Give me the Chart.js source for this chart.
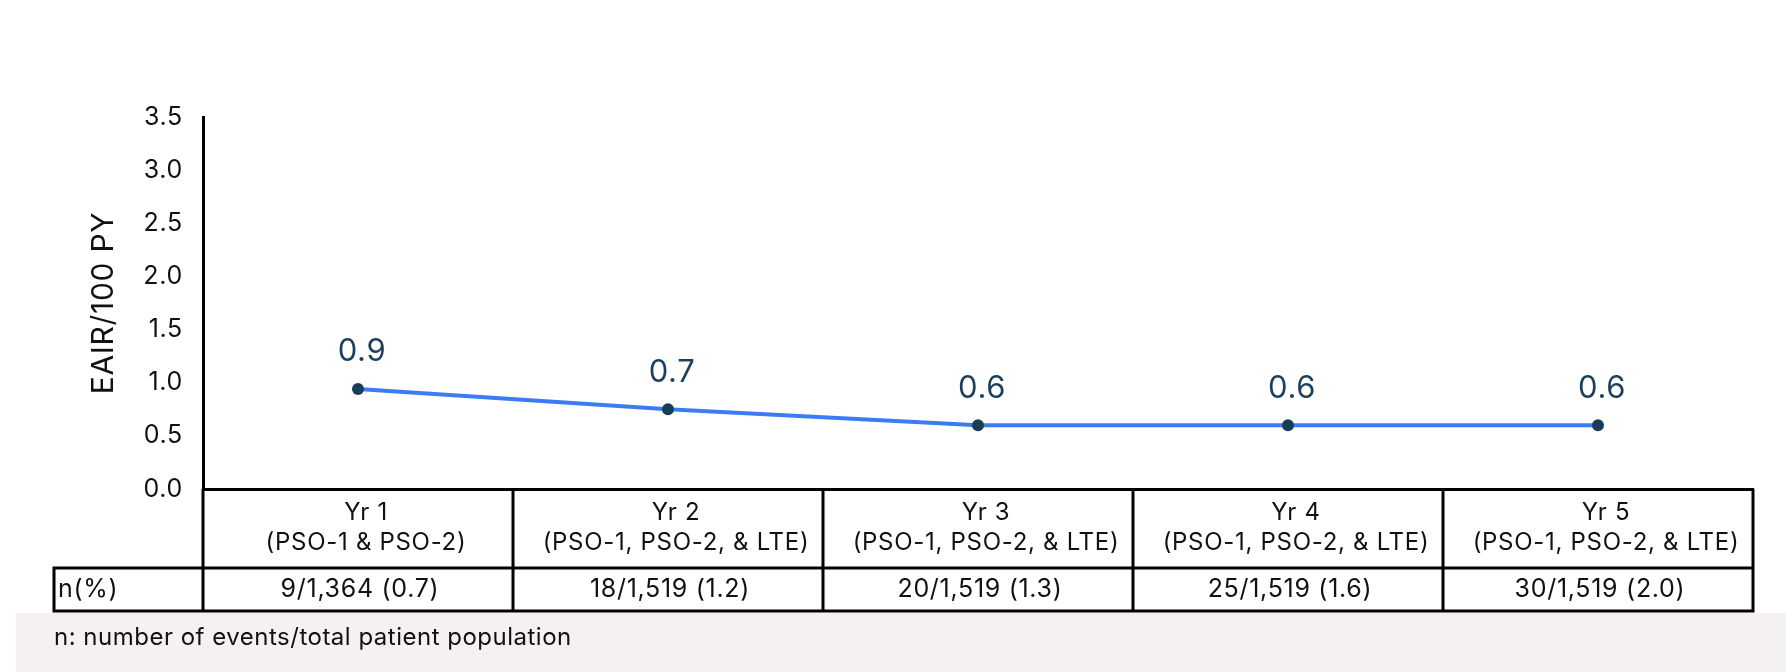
<!DOCTYPE html>
<html lang="en">
<head>
    <meta charset="UTF-8">
    <title>EAIR by Year</title>
    <script src="https://cdn.jsdelivr.net/npm/chart.js"></script>
    <style>
        body {
            margin: 0;
            background-color: white;
        }

        .chart-container {
            width: 1789px;
            height: 672px;
            position: relative;
        }
    </style>
</head>
<body>
    <div class="chart-container">
        <canvas id="eairChart"></canvas>
    </div>

    <script>
        const years = ['Yr 1', 'Yr 2', 'Yr 3', 'Yr 4', 'Yr 5'];
        const studies = ['(PSO-1 & PSO-2)', '(PSO-1, PSO-2, & LTE)', '(PSO-1, PSO-2, & LTE)', '(PSO-1, PSO-2, & LTE)', '(PSO-1, PSO-2, & LTE)'];
        const eairValues = [0.94, 0.75, 0.6, 0.6, 0.6];
        const eairLabels = ['0.9', '0.7', '0.6', '0.6', '0.6'];
        const eventCounts = ['9/1,364 (0.7)', '18/1,519 (1.2)', '20/1,519 (1.3)', '25/1,519 (1.6)', '30/1,519 (2.0)'];
        const yTicks = [0, 0.5, 1, 1.5, 2, 2.5, 3, 3.5];

        const fontFamily = 'Inter, "Noto Sans", Arial, sans-serif';

        // data labels above the points
        const valueLabels = {
            id: 'valueLabels',
            afterDatasetsDraw(chart) {
                const ctx = chart.ctx;
                const meta = chart.getDatasetMeta(0);
                ctx.save();
                ctx.letterSpacing = '0.6px';
                ctx.font = '31px ' + fontFamily;
                ctx.fillStyle = '#1b3f5c';
                ctx.textAlign = 'center';
                ctx.textBaseline = 'middle';
                meta.data.forEach(function (pt, i) {
                    ctx.fillText(eairLabels[i], pt.x + 4, pt.y - 37);
                });
                ctx.restore();
            }
        };

        // table grid under the x axis + footnote
        const tableGrid = {
            id: 'tableGrid',
            beforeDraw(chart) {
                const ctx = chart.ctx;
                ctx.save();
                ctx.fillStyle = '#f4f1f0';
                ctx.fillRect(16, 613, 1770, 59);
                ctx.letterSpacing = '0.5px';
                ctx.font = '24px ' + fontFamily;
                ctx.fillStyle = '#111';
                ctx.textAlign = 'left';
                ctx.textBaseline = 'middle';
                ctx.fillText('n: number of events/total patient population', 54, 638);
                ctx.restore();
                // the reference text is a little wider than Inter
                ctx.letterSpacing = '0.7px';
            },
            afterDraw(chart) {
                const ctx = chart.ctx;
                const x = chart.scales.x;
                const half = (x.right - x.left) / (years.length * 2);
                const top = chart.chartArea.bottom;
                const rowY = 568;
                const bottom = 611;
                const rowLeft = 54;
                ctx.save();
                ctx.strokeStyle = '#000';
                ctx.lineWidth = 3;
                ctx.beginPath();
                for (let i = 0; i <= years.length; i++) {
                    const bx = i < years.length ? x.getPixelForValue(i) - half : x.getPixelForValue(i - 1) + half;
                    ctx.moveTo(bx, top);
                    ctx.lineTo(bx, bottom);
                }
                ctx.moveTo(rowLeft, rowY);
                ctx.lineTo(x.right, rowY);
                ctx.moveTo(rowLeft - 1.5, bottom);
                ctx.lineTo(x.right + 1.5, bottom);
                ctx.moveTo(rowLeft, rowY);
                ctx.lineTo(rowLeft, bottom);
                ctx.moveTo(rowLeft - 1.5, rowY);
                ctx.lineTo(x.left, rowY);
                ctx.stroke();

                ctx.letterSpacing = '0.7px';
                ctx.font = '25px ' + fontFamily;
                ctx.fillStyle = '#111';
                ctx.textBaseline = 'middle';
                ctx.textAlign = 'left';
                ctx.fillText('n(%)', rowLeft + 4, 589);
                ctx.textAlign = 'center';
                eventCounts.forEach(function (txt, i) {
                    ctx.fillText(txt, x.getPixelForValue(i) + 2, 589);
                });
                ctx.restore();
            }
        };

        const ctx = document.getElementById('eairChart').getContext('2d');
        const eairChart = new Chart(ctx, {
            type: 'line',
            data: {
                labels: years.map(function (y, i) { return [y, studies[i]]; }),
                datasets: [{
                    label: 'EAIR/100 PY',
                    data: eairValues,
                    borderColor: '#3b7cf6',
                    borderWidth: 4,
                    pointRadius: 6,
                    pointHoverRadius: 6,
                    pointBackgroundColor: '#173d58',
                    pointBorderColor: '#173d58',
                    pointBorderWidth: 0,
                    tension: 0,
                    fill: false
                }]
            },
            options: {
                responsive: true,
                maintainAspectRatio: false,
                animation: false,
                layout: {
                    padding: { top: 117, right: 36, left: 0, bottom: 0 }
                },
                plugins: {
                    legend: { display: false },
                    tooltip: { enabled: false }
                },
                scales: {
                    x: {
                        offset: true,
                        grid: { display: false, drawTicks: false },
                        border: { display: true, color: '#000', width: 3 },
                        ticks: {
                            color: '#111',
                            padding: 9,
                            labelOffset: 8,
                            autoSkip: false,
                            maxRotation: 0,
                            font: { family: fontFamily, size: 24, lineHeight: 1.25 }
                        },
                        afterFit(scale) {
                            scale.height = 183;
                        }
                    },
                    y: {
                        min: 0,
                        max: 3.5,
                        grid: { display: false, drawTicks: false },
                        border: { display: true, color: '#000', width: 3 },
                        afterBuildTicks(scale) {
                            scale.ticks = yTicks.map(function (v) { return { value: v }; });
                        },
                        ticks: {
                            color: '#111',
                            padding: 20,
                            font: { family: fontFamily, size: 25 },
                            callback: function (v) { return Number(v).toFixed(1); }
                        },
                        title: {
                            display: true,
                            text: 'EAIR/100 PY',
                            color: '#111',
                            padding: { top: 86, bottom: 0 },
                            font: { family: fontFamily, size: 30 }
                        },
                        afterFit(scale) {
                            scale.width = 203;
                        }
                    }
                }
            },
            plugins: [valueLabels, tableGrid]
        });
    </script>
</body>
</html>
